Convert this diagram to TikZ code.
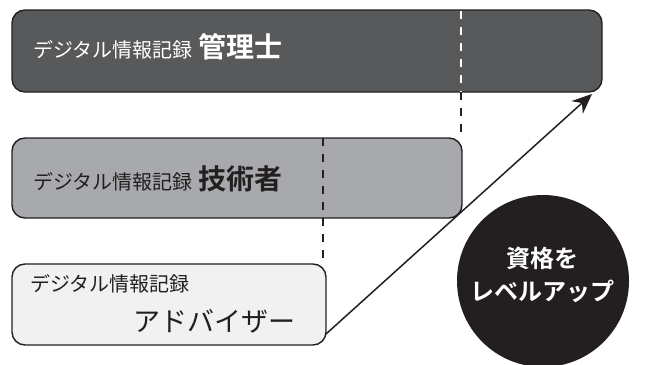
\documentclass[tikz,border=0pt]{standalone}
\usepackage{fontspec}
\setmainfont{Noto Sans CJK JP}[BoldFont={Noto Sans CJK JP Bold}]
\usetikzlibrary{arrows.meta}
\definecolor{ink}{HTML}{231F20}
\definecolor{darkbox}{HTML}{58595B}
\definecolor{midbox}{HTML}{A7A9AC}
\definecolor{lightbox}{HTML}{F1F1F2}
\tikzset{
  levelbox/.style={draw=ink, line width=1.4pt, rounded corners=13pt, inner sep=0pt},
  smalltxt/.style={font=\fontsize{20}{22}\selectfont, inner sep=0pt},
  guide/.style={line width=2.4pt, dash pattern=on 8pt off 8pt},
}
\begin{document}
\begin{tikzpicture}[x=1pt,y=-1pt]
\useasboundingbox (0,0) rectangle (658,364);
% boxes
\node[levelbox, fill=darkbox, minimum width=590pt, minimum height=82pt] (b1) at (307,51) {};
\node[levelbox, fill=midbox, minimum width=450pt, minimum height=80pt] (b2) at (237,178) {};
\node[levelbox, fill=lightbox, minimum width=314pt, minimum height=81pt] (b3) at (169,304.5) {};
% dashed guides
\coordinate (g1t) at (461,11);
\coordinate (g1m) at (461,92);
\coordinate (g1b) at (461,138);
\coordinate (g2t) at (323,138);
\coordinate (g2m) at (323,218);
\coordinate (g2b) at (323,264);
\draw[guide, white] (g1t) -- (g1m);
\draw[guide, ink] (g1m) -- (g1b);
\draw[guide, ink] (g2t) -- (g2m);
\draw[guide, ink] (g2m) -- (g2b);
% texts
\node[anchor=base west, inner sep=0pt, text=white] (t1) at (33,57)
  {{\fontsize{20}{22}\selectfont デジタル情報記録}\hspace{6pt}{\fontsize{28}{30}\selectfont\bfseries 管理士}};
\node[anchor=base west, inner sep=0pt, text=ink] (t2) at (33,189)
  {{\fontsize{20}{22}\selectfont デジタル情報記録}\hspace{6pt}{\fontsize{28}{30}\selectfont\bfseries 技術者}};
\node[smalltxt, anchor=base west, text=ink] (t3a) at (30,291) {デジタル情報記録};
\node[anchor=base east, inner sep=0pt, text=ink, font=\fontsize{27}{29}\selectfont] (t3b) at (296,331) {アドバイザー};
% arrow
\coordinate (astart) at (326,334);
\coordinate (aend) at (592,94);
\draw[ink, line width=1.5pt, -{Stealth[length=20pt, width=17pt]}] (astart) -- (aend);
% circle
\node[circle, fill=ink, minimum size=172pt, inner sep=0pt] (c) at (543,281) {};
\node[text=white, font=\fontsize{24}{33}\selectfont\bfseries, align=center, inner sep=0pt] (ct) at (542,275) {資格を\\レベルアップ};
\end{tikzpicture}
\end{document}
